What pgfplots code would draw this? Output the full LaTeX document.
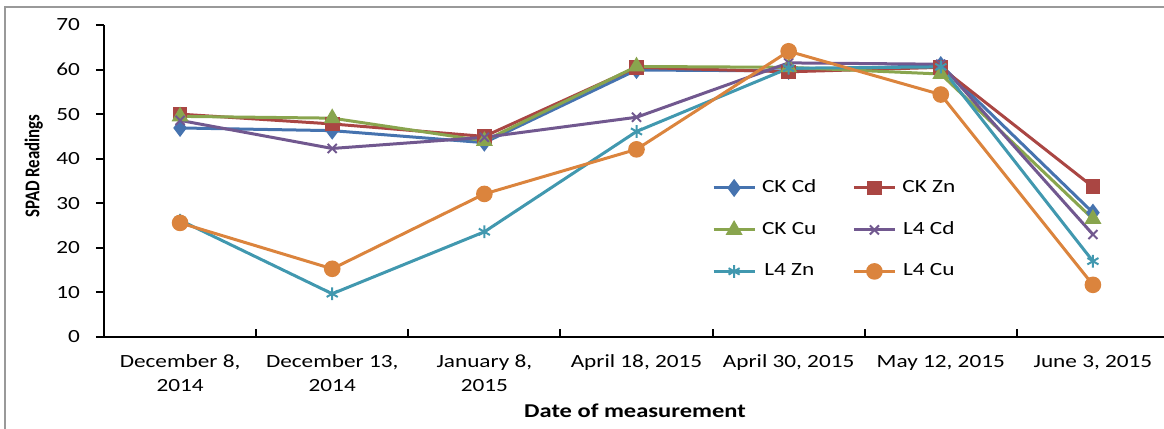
\documentclass[border=0pt]{standalone}
\usepackage{pgfplots}
\pgfplotsset{compat=1.18}
\usepackage{fontspec}
\setmainfont[FakeStretch=1.25]{Carlito}
\newfontfamily\ylabfont[FakeStretch=0.8]{Carlito}
\definecolor{cBlue}{RGB}{70,115,175}
\definecolor{cRed}{RGB}{170,70,67}
\definecolor{cGreen}{RGB}{137,165,78}
\definecolor{cPurple}{RGB}{113,88,143}
\definecolor{cTeal}{RGB}{65,152,175}
\definecolor{cOrange}{RGB}{219,132,61}
\begin{document}
\begin{tikzpicture}
\useasboundingbox (0,0) rectangle (582pt,214.5pt);
\draw[gray!80, line width=1pt] (2.5pt,211pt) rectangle (590pt,-8pt);
\begin{axis}[
  at={(52pt,46pt)}, anchor=south west,
  width=532.5pt, height=156pt, scale only axis,
  xmin=-0.5, xmax=6.5, ymin=0, ymax=70,
  axis x line=bottom, axis y line=left,
  axis line style={-, line width=1pt},
  xtick={0,...,6},
  xticklabels={{December 8,\\2014},{December 13,\\2014},{January 8,\\2015},{April 18, 2015},{April 30, 2015},{May 12, 2015},{June 3, 2015}},
  minor xtick={0.5,1.5,...,5.5},
  major tick length=4pt, minor tick length=4pt,
  tick align=inside,
  major x tick style={draw=none},
  minor x tick style={line width=1pt, black},
  ytick={0,10,...,70},
  y tick style={line width=1pt, black, xshift=-4pt},
  xtick pos=bottom, ytick pos=left,
  /pgf/number format/assume math mode=true,
  ticklabel style={font=\fontsize{9.3}{12}\selectfont},
  xticklabel style={align=center, yshift=-5.5pt},
  yticklabel style={xshift=-8.5pt},
  xlabel={\bfseries Date of measurement},
  xlabel style={font=\fontsize{9.8}{10}\selectfont, at={(axis description cs:0.4986,-0.237)}, anchor=center},
  ylabel={\ylabfont\bfseries SPAD Readings},
  ylabel style={font=\fontsize{10.5}{12}\selectfont, at={(axis description cs:-0.066,0.548)}, anchor=center, rotate=0},
  every axis plot/.append style={line width=1.5pt},
  legend columns=2,
  legend style={draw=none, fill=none, at={(axis description cs:0.565,0.53)}, anchor=north west,
    font=\fontsize{9.3}{10}\selectfont, row sep=9pt,
    /tikz/every odd column/.append style={column sep=1pt},
    /tikz/every even column/.append style={column sep=16pt}},
  legend image code/.code={\draw[mark repeat=2,mark phase=2] plot coordinates {(0cm,0cm)(0.36cm,0cm)(0.72cm,0cm)};},
]
\addplot[color=cBlue, mark=diamond*, mark size=3.3pt, mark options={solid,fill=cBlue}] coordinates {(0,46.9)(1,46.3)(2,43.6)(3,59.9)(4,59.7)(5,61.0)(6,27.9)};
\addlegendentry{CK Cd}
\addplot[color=cRed, mark=square*, mark size=2.9pt, mark options={solid,fill=cRed}] coordinates {(0,50.0)(1,47.8)(2,45.0)(3,60.5)(4,59.5)(5,60.5)(6,33.7)};
\addlegendentry{CK Zn}
\addplot[color=cGreen, mark=triangle*, mark size=3.4pt, mark options={solid,fill=cGreen}] coordinates {(0,49.5)(1,49.1)(2,44.0)(3,60.7)(4,60.5)(5,59.0)(6,26.5)};
\addlegendentry{CK Cu}
\addplot[color=cPurple, mark=x, mark size=3.2pt, mark options={solid, line width=1pt}] coordinates {(0,48.6)(1,42.3)(2,44.8)(3,49.3)(4,61.5)(5,61.2)(6,23.0)};
\addlegendentry{L4 Cd}
\addplot[color=cTeal, mark=asterisk, mark size=3.2pt, mark options={solid, line width=1pt}] coordinates {(0,26.2)(1,9.7)(2,23.6)(3,46.1)(4,60.3)(5,60.6)(6,17.0)};
\addlegendentry{L4 Zn}
\addplot[color=cOrange, mark=*, mark size=3.4pt, mark options={solid,fill=cOrange}] coordinates {(0,25.6)(1,15.3)(2,32.1)(3,42.1)(4,64.1)(5,54.4)(6,11.7)};
\addlegendentry{L4 Cu}
\end{axis}
\end{tikzpicture}
\end{document}
